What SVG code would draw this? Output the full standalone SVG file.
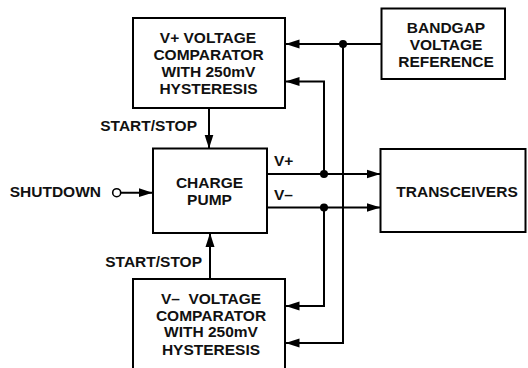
<svg xmlns="http://www.w3.org/2000/svg" width="528" height="368" viewBox="0 0 528 368">
<defs>
<marker id="ah" markerUnits="userSpaceOnUse" markerWidth="16" markerHeight="12" viewBox="0 0 16 12" refX="14" refY="6" orient="auto">
<path d="M0,1.5 L14,6 L0,10.5 Z" fill="#000"/>
</marker>
<style>
.box{fill:#fff;stroke:#000;stroke-width:2}
.t{font-family:"Liberation Sans",Arial,sans-serif;font-weight:bold;font-size:15.5px;fill:#111;text-anchor:middle}
.l{font-family:"Liberation Sans",Arial,sans-serif;font-weight:bold;font-size:15.5px;fill:#111}
.w{fill:none;stroke:#000;stroke-width:2}
.a{fill:none;stroke:#000;stroke-width:2;marker-end:url(#ah)}
</style>
</defs>
<g id="connectors">
<path class="a" d="M381,44 H285.5"/>
<path class="a" d="M343,44 V343 H285.5"/>
<path class="a" d="M324,174 V81.5 H285.5"/>
<path class="a" d="M324,207 V306 H285.5"/>
<path class="a" d="M267,174 H380.5"/>
<path class="a" d="M267,207.5 H380.5"/>
<path class="a" d="M209,108 V148.5"/>
<path class="a" d="M210,279 V233"/>
<path class="a" d="M120.7,192.7 H152.5"/>
<circle cx="116.7" cy="192.7" r="4" fill="#fff" stroke="#000" stroke-width="1.6"/>
<circle cx="343" cy="44" r="4"/>
<circle cx="324" cy="174" r="4"/>
<circle cx="324" cy="207.5" r="4"/>
<text class="l" x="274" y="165.7">V+</text>
<text class="l" x="274" y="200">V–</text>
<text class="l" x="197" y="130.5" text-anchor="end">START/STOP</text>
<text class="l" x="202" y="266.7" text-anchor="end">START/STOP</text>
<text class="l" x="101" y="196.7" text-anchor="end">SHUTDOWN</text>
</g>
<g id="vplus">
<rect class="box" x="133" y="18" width="152" height="90"/>
<text class="t" x="208" y="43.3">V+ VOLTAGE</text>
<text class="t" x="208.5" y="60">COMPARATOR</text>
<text class="t" x="208.5" y="76.7">WITH 250mV</text>
<text class="t" x="208.5" y="93.5">HYSTERESIS</text>
</g>
<g id="bandgap">
<rect class="box" x="381.5" y="8.5" width="123.5" height="70.5"/>
<text class="t" x="446" y="33.3">BANDGAP</text>
<text class="t" x="446" y="50">VOLTAGE</text>
<text class="t" x="446" y="66.7">REFERENCE</text>
</g>
<g id="chargepump">
<rect class="box" x="153" y="148.5" width="114" height="84.5"/>
<text class="t" x="209.5" y="188.3">CHARGE</text>
<text class="t" x="209.5" y="205">PUMP</text>
</g>
<g id="transceivers">
<rect class="box" x="380.5" y="149" width="145" height="83"/>
<text class="t" x="457" y="197.3">TRANSCEIVERS</text>
</g>
<g id="vminus">
<rect class="box" x="133" y="279" width="152" height="95"/>
<text class="t" x="211" y="304" xml:space="preserve">V–  VOLTAGE</text>
<text class="t" x="211" y="320.7">COMPARATOR</text>
<text class="t" x="211" y="337.3">WITH 250mV</text>
<text class="t" x="211" y="355">HYSTERESIS</text>
</g>
</svg>
